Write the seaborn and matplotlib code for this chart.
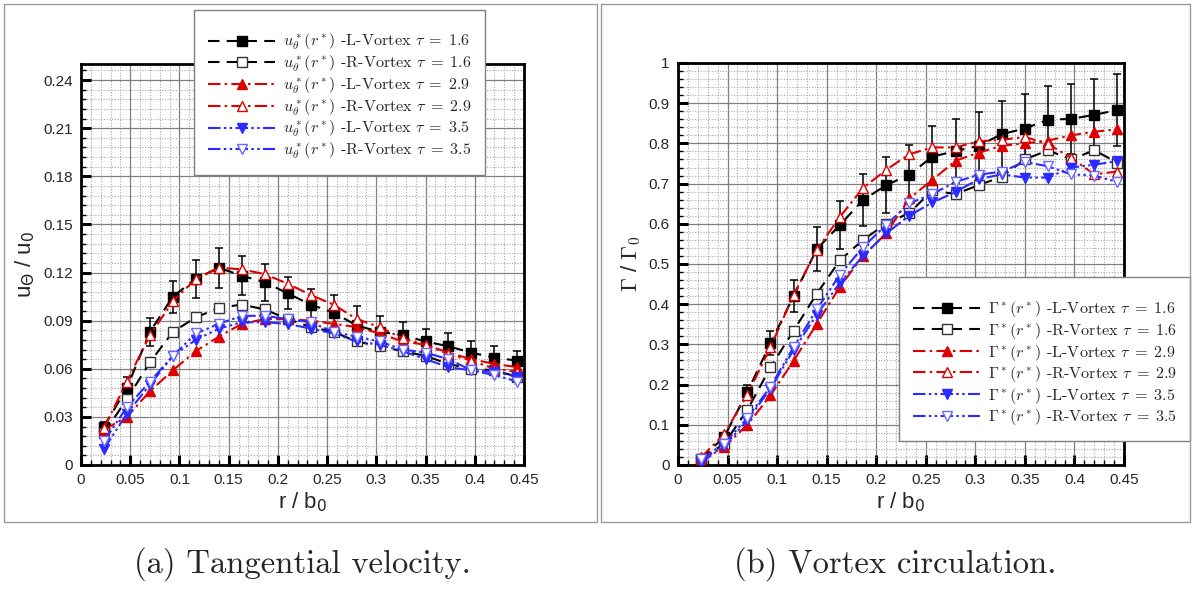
import numpy as np
import pandas as pd
import matplotlib
matplotlib.use("Agg")
import matplotlib.pyplot as plt
from matplotlib.ticker import MultipleLocator, FuncFormatter
from matplotlib.patches import Rectangle
import seaborn as sns

# Radial stations r / b0
r = [0.0233, 0.0466, 0.0700, 0.0933, 0.1166, 0.1400, 0.1633, 0.1866, 0.2100, 0.2333,
     0.2566, 0.2800, 0.3033, 0.3266, 0.3500, 0.3733, 0.3966, 0.4200, 0.4433]

# Tangential velocity u_theta / u0
u_L16 = [0.024, 0.048, 0.083, 0.105, 0.116, 0.123, 0.118, 0.114, 0.107, 0.100,
         0.095, 0.087, 0.083, 0.081, 0.077, 0.074, 0.070, 0.067, 0.065]
u_L16_err = [0.003, 0.007, 0.0085, 0.010, 0.012, 0.0125, 0.012, 0.0115, 0.010, 0.0095,
             0.011, 0.012, 0.010, 0.008, 0.008, 0.008, 0.007, 0.007, 0.006]
u_R16 = [0.020, 0.041, 0.064, 0.083, 0.092, 0.098, 0.100, 0.097, 0.091, 0.086,
         0.083, 0.077, 0.074, 0.071, 0.068, 0.063, 0.060, 0.059, 0.055]
u_L29 = [0.022, 0.030, 0.046, 0.059, 0.071, 0.080, 0.088, 0.091, 0.091, 0.090,
         0.088, 0.086, 0.082, 0.077, 0.075, 0.070, 0.066, 0.063, 0.061]
u_R29 = [0.023, 0.052, 0.081, 0.102, 0.116, 0.123, 0.122, 0.119, 0.113, 0.106,
         0.100, 0.091, 0.086, 0.079, 0.075, 0.069, 0.065, 0.060, 0.058]
u_L35 = [0.010, 0.032, 0.050, 0.068, 0.078, 0.085, 0.089, 0.089, 0.088, 0.085,
         0.082, 0.077, 0.075, 0.071, 0.066, 0.061, 0.059, 0.058, 0.055]
u_R35 = [0.015, 0.036, 0.052, 0.068, 0.082, 0.088, 0.093, 0.093, 0.091, 0.089,
         0.083, 0.080, 0.077, 0.072, 0.070, 0.066, 0.059, 0.056, 0.052]

# Circulation Gamma / Gamma0
g_L16 = [0.015, 0.070, 0.182, 0.303, 0.420, 0.537, 0.597, 0.659, 0.696, 0.722,
         0.767, 0.781, 0.794, 0.823, 0.837, 0.859, 0.861, 0.871, 0.883]
g_L16_err = [0.005, 0.010, 0.017, 0.030, 0.040, 0.054, 0.060, 0.065, 0.070, 0.073,
             0.076, 0.079, 0.083, 0.083, 0.086, 0.085, 0.088, 0.090, 0.089]
g_R16 = [0.015, 0.053, 0.137, 0.243, 0.334, 0.426, 0.509, 0.560, 0.600, 0.627,
         0.683, 0.674, 0.696, 0.717, 0.760, 0.783, 0.760, 0.783, 0.752]
g_L29 = [0.015, 0.045, 0.100, 0.173, 0.259, 0.351, 0.443, 0.520, 0.576, 0.663,
         0.709, 0.757, 0.777, 0.794, 0.800, 0.807, 0.820, 0.829, 0.835]
g_R29 = [0.019, 0.077, 0.175, 0.293, 0.423, 0.535, 0.617, 0.689, 0.734, 0.773,
         0.790, 0.790, 0.805, 0.809, 0.816, 0.799, 0.764, 0.723, 0.730]
g_L35 = [0.006, 0.047, 0.111, 0.190, 0.286, 0.374, 0.453, 0.520, 0.576, 0.620,
         0.653, 0.679, 0.711, 0.723, 0.715, 0.715, 0.740, 0.747, 0.756]
g_R35 = [0.015, 0.053, 0.117, 0.195, 0.293, 0.387, 0.473, 0.542, 0.597, 0.651,
         0.674, 0.704, 0.722, 0.730, 0.754, 0.743, 0.723, 0.720, 0.704]

vortex_names = ["-L-Vortex", "-R-Vortex", "-L-Vortex", "-R-Vortex", "-L-Vortex", "-R-Vortex"]
tau_labels = ["1.6", "1.6", "2.9", "2.9", "3.5", "3.5"]

sns.set_theme(style="white")
plt.rcParams["font.family"] = ["Liberation Sans", "DejaVu Sans"]
plt.rcParams["mathtext.fontset"] = "cm"
plt.rcParams["axes.unicode_minus"] = False

RED = "#dd0000"
BLUE = "#2b2bff"
LBLUE = "#6a6aff"

dash_black = (0, (5.5, 3.5))
dash_red = (0, (6, 2, 1.2, 2))
dash_blue = (0, (6, 1.6, 1.2, 1.6, 1.2, 1.6))

styles = [
    dict(color="black", linestyle=dash_black, marker="s", markerfacecolor="black",
         markeredgecolor="black"),
    dict(color="black", linestyle=dash_black, marker="s", markerfacecolor="white",
         markeredgecolor="#333333"),
    dict(color=RED, linestyle=dash_red, marker="^", markerfacecolor=RED,
         markeredgecolor=RED),
    dict(color=RED, linestyle=dash_red, marker="^", markerfacecolor="white",
         markeredgecolor=RED),
    dict(color=BLUE, linestyle=dash_blue, marker="v", markerfacecolor=BLUE,
         markeredgecolor=BLUE),
    dict(color=BLUE, linestyle=dash_blue, marker="v", markerfacecolor="white",
         markeredgecolor=LBLUE),
]

fig = plt.figure(figsize=(11.95, 5.90), dpi=100)

# panel frames
for (x0, x1) in [(4, 597), (601, 1190)]:
    fig.patches.append(Rectangle((x0 / 1195, 1 - 522 / 590), (x1 - x0) / 1195, 518 / 590,
                                 transform=fig.transFigure, fill=False,
                                 edgecolor="#9a9a9a", linewidth=1.0, zorder=0))

ax1 = fig.add_axes([81 / 1195, 1 - 465 / 590, (524 - 81) / 1195, (465 - 64) / 590])
ax2 = fig.add_axes([678 / 1195, 1 - 465 / 590, (1124 - 678) / 1195, (465 - 63) / 590])


def draw_panel(ax, series, err, sym):
    ax.errorbar(r, series[0], yerr=err, fmt="none", ecolor="black", elinewidth=1.1,
                capsize=3, capthick=1.1, zorder=3)
    for vals, st, vn, tau in zip(series, styles, vortex_names, tau_labels):
        label = rf"${sym}(r^*)$ {vn} $\tau\;=\;{tau}$"
        df = pd.DataFrame({"r": r, "v": vals})
        sns.lineplot(data=df, x="r", y="v", ax=ax, label=label, linewidth=1.5,
                     markersize=7.3, markeredgewidth=1.0, errorbar=None, zorder=4, **st)


def style_axes(ax, ymax, ymajor, ylabel, label_math):
    ax.set_xlim(0, 0.45)
    ax.set_ylim(0, ymax)
    ax.xaxis.set_major_locator(MultipleLocator(0.05))
    ax.xaxis.set_minor_locator(MultipleLocator(0.01))
    ax.yaxis.set_major_locator(MultipleLocator(ymajor))
    ax.yaxis.set_minor_locator(MultipleLocator(ymajor / 5))
    fmt = FuncFormatter(lambda v, p: f"{round(v, 4):g}")
    ax.xaxis.set_major_formatter(fmt)
    ax.yaxis.set_major_formatter(fmt)
    ax.grid(which="major", color="#808080", linewidth=0.9, linestyle="-")
    ax.grid(which="minor", color="#a8a8a8", linewidth=0.8, linestyle=(0, (1, 1.5)))
    ax.set_axisbelow(True)
    ax.tick_params(which="major", direction="in", length=7, width=2.2, color="black",
                   labelsize=11, pad=6, bottom=True, left=True, top=False, right=False)
    ax.tick_params(which="minor", direction="in", length=3.5, width=1.0, color="black",
                   bottom=True, left=True, top=False, right=False)
    for s in ax.spines.values():
        s.set_linewidth(2.0)
        s.set_color("black")
    ax.set_xlabel("r / b$_0$", fontsize=16, math_fontfamily="dejavusans", labelpad=2)
    ax.set_ylabel(ylabel, fontsize=16, math_fontfamily=label_math, labelpad=4)


draw_panel(ax1, [u_L16, u_R16, u_L29, u_R29, u_L35, u_R35], u_L16_err, r"u_\theta^*")
draw_panel(ax2, [g_L16, g_R16, g_L29, g_R29, g_L35, g_R35], g_L16_err, r"\Gamma^*")

style_axes(ax1, 0.25, 0.03, "u$_\\Theta$ / u$_0$", "dejavusans")
style_axes(ax2, 1.0, 0.1, "$\\Gamma$ / $\\Gamma_0$", "cm")

leg_kw = dict(frameon=True, fancybox=False, edgecolor="#808080", framealpha=1.0,
              handlelength=4.2, handletextpad=0.45, labelspacing=0.1, borderpad=0.85,
              borderaxespad=0, prop={"family": "cmr10", "size": 11.6}, numpoints=1,
              title=" ", title_fontsize=5)

l1 = ax1.legend(loc="upper left", bbox_to_anchor=(194 / 1195, 1 - 10 / 590),
                bbox_transform=fig.transFigure, **leg_kw)
l2 = ax2.legend(loc="upper left", bbox_to_anchor=(899 / 1195, 1 - 277 / 590),
                bbox_transform=fig.transFigure, **leg_kw)
for lg in (l1, l2):
    lg.get_frame().set_linewidth(1.0)
    lg.set_zorder(10)

fig.text(302 / 1195, 1 - 564 / 590, "(a) Tangential velocity.", family="cmr10",
         fontsize=23.5, ha="center", va="center")
fig.text(895 / 1195, 1 - 564 / 590, "(b) Vortex circulation.", family="cmr10",
         fontsize=23.5, ha="center", va="center")

fig.savefig("out.png", dpi=100)
